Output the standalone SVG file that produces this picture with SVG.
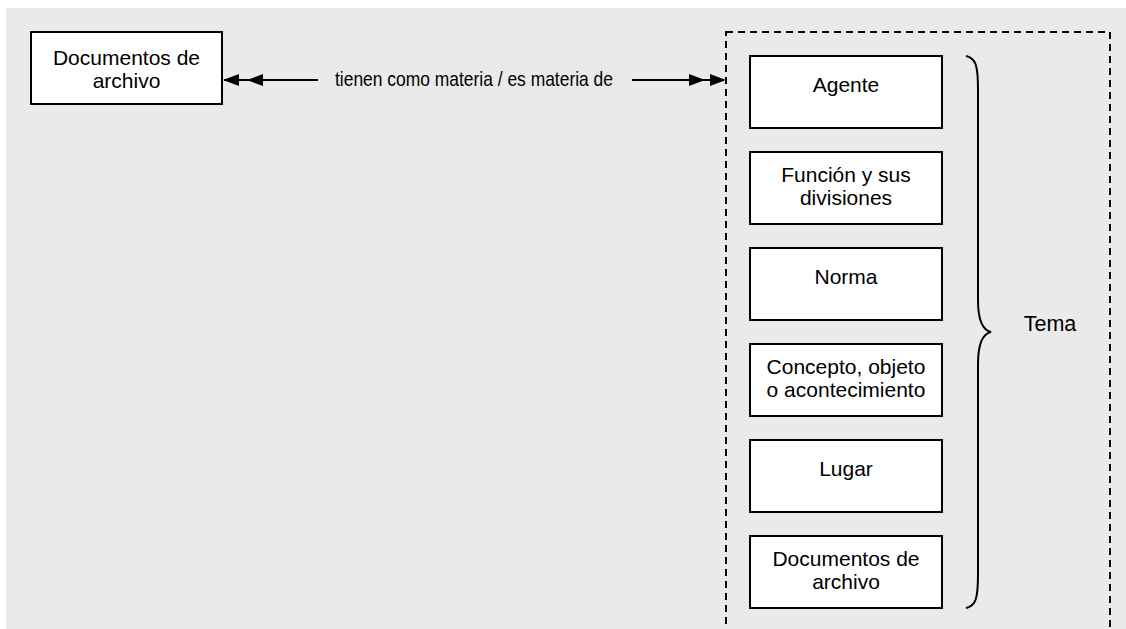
<svg xmlns="http://www.w3.org/2000/svg" width="1126" height="629" viewBox="0 0 1126 629">
<defs>
<style>
.box{fill:#fff;stroke:#000;stroke-width:2}
.t{font-family:"Liberation Sans",Arial,sans-serif;font-size:21px;fill:#000;text-anchor:middle}
.ln{stroke:#000;stroke-width:2;fill:none}
.ah{fill:#000}
</style>
</defs>
<rect x="0" y="0" width="1126" height="629" fill="#fff"/>
<rect x="6" y="8" width="1120" height="621" fill="#eaeaea"/>
<g id="tema-group">
<rect x="726" y="32" width="384" height="620" fill="none" stroke="#000" stroke-width="2" stroke-dasharray="7,5"/>
</g>
<g id="doc-left">
<rect class="box" x="31" y="32" width="191" height="72"/>
<text class="t" x="126.5" y="65">Documentos de</text>
<text class="t" x="126.5" y="87.5">archivo</text>
</g>
<g id="connectors">
<line class="ln" x1="224" y1="80" x2="318" y2="80"/>
<polygon class="ah" points="223,80 239,74 239,86"/>
<polygon class="ah" points="247,80 263,74 263,86"/>
<line class="ln" x1="632" y1="80" x2="724" y2="80"/>
<polygon class="ah" points="705,80 689,74 689,86"/>
<polygon class="ah" points="726,80 710,74 710,86"/>
<text class="t" x="474" y="85.5" style="font-size:21px" textLength="278" lengthAdjust="spacingAndGlyphs">tienen como materia / es materia de</text>
</g>
<g id="agente">
<rect class="box" x="750" y="56" width="192" height="72"/>
<text class="t" x="846" y="92">Agente</text>
</g>
<g id="funcion">
<rect class="box" x="750" y="152" width="192" height="72"/>
<text class="t" x="846" y="181.5">Función y sus</text>
<text class="t" x="846" y="204.5">divisiones</text>
</g>
<g id="norma">
<rect class="box" x="750" y="248" width="192" height="72"/>
<text class="t" x="846" y="284">Norma</text>
</g>
<g id="concepto">
<rect class="box" x="750" y="344" width="192" height="72"/>
<text class="t" x="846" y="373.5">Concepto, objeto</text>
<text class="t" x="846" y="396.5">o acontecimiento</text>
</g>
<g id="lugar">
<rect class="box" x="750" y="440" width="192" height="72"/>
<text class="t" x="846" y="476">Lugar</text>
</g>
<g id="doc-right">
<rect class="box" x="750" y="536" width="192" height="72"/>
<text class="t" x="846" y="565.5">Documentos de</text>
<text class="t" x="846" y="588.5">archivo</text>
</g>
<g id="brace">
<path class="ln" d="M966,56 C976,58 978,66 978,90 L978,300 C978,320 982,330 991,332 C982,334 978,344 978,364 L978,574 C978,598 976,606 966,608"/>
</g>
<g id="tema">
<text class="t" x="1050" y="331" style="font-size:21.5px">Tema</text>
</g>
</svg>
